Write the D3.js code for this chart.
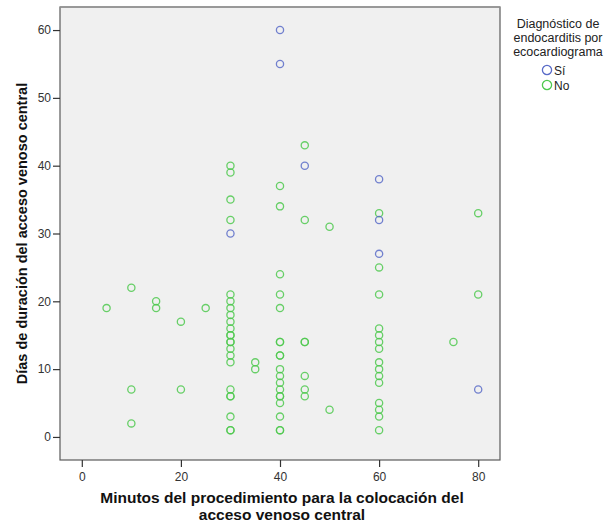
<!DOCTYPE html>
<meta charset="utf-8">
<script src="https://d3js.org/d3.v7.min.js"></script>
<style>
  body { margin: 0; background: #fff; }
  text { font-family: "Liberation Sans", Arial, sans-serif; }
</style>
<div id="chart"></div>
<script>

    // Diagnóstico = Sí
    const siMinutos = [40, 40, 45, 30, 60, 60, 60, 80];
    const siDias    = [60, 55, 40, 30, 38, 32, 27, 7];

    // Diagnóstico = No
    const noMinutos = [5, 10, 10, 10, 15, 15, 20, 20, 25,
      30, 30, 30, 30, 30, 30, 30, 30, 30, 30, 30, 30, 30, 30, 30, 30, 30, 30, 30, 30, 30, 30, 30,
      35, 35,
      40, 40, 40, 40, 40, 40, 40, 40, 40, 40, 40, 40, 40, 40, 40, 40, 40, 40, 40,
      45, 45, 45, 45, 45, 45, 45,
      50, 50,
      60, 60, 60, 60, 60, 60, 60, 60, 60, 60, 60, 60, 60, 60, 60,
      75, 80, 80];
    const noDias = [19, 22, 7, 2, 20, 19, 17, 7, 19,
      40, 39, 35, 32, 21, 20, 19, 18, 17, 16, 15, 15, 14, 14, 13, 12, 11, 7, 6, 6, 3, 1, 1,
      11, 10,
      37, 34, 24, 21, 19, 14, 14, 12, 12, 10, 9, 8, 7, 6, 6, 5, 3, 1, 1,
      43, 32, 14, 14, 9, 7, 6,
      31, 4,
      33, 25, 21, 16, 15, 14, 13, 11, 10, 9, 8, 5, 4, 3, 1,
      14, 33, 21];

    const xTicks = [0, 20, 40, 60, 80];
    const yTicks = [0, 10, 20, 30, 40, 50, 60];
    const legendTitle = ["Diagnóstico de", "endocarditis por", "ecocardiograma"];
    const legendLabels = ["Sí", "No"];
    const colors = ["#5a6cc8", "#4fc94f"];

    const W = 610, H = 527;
    const plot = {left: 60, right: 500, top: 7, bottom: 460};

    const svg = d3.select("#chart")
      .append("svg")
        .attr("width", W)
        .attr("height", H);

    const x = d3.scaleLinear()
      .domain([-4.4, 84.4])
      .range([plot.left, plot.right]);

    const y = d3.scaleLinear()
      .domain([-3.4, 63.4])
      .range([plot.bottom, plot.top]);

    // plot background + frame
    svg.append("rect")
      .attr("x", plot.left)
      .attr("y", plot.top)
      .attr("width", plot.right - plot.left)
      .attr("height", plot.bottom - plot.top)
      .attr("fill", "#f0f0f0")
      .attr("stroke", "#5a5a5a")
      .attr("stroke-width", 1.2);
    // top edge is drawn lighter in the original
    svg.append("line")
      .attr("x1", plot.left).attr("x2", plot.right)
      .attr("y1", plot.top).attr("y2", plot.top)
      .attr("stroke", "#999")
      .attr("stroke-width", 1.4);

    // axes
    const yAxis = svg.append("g")
      .attr("transform", `translate(${plot.left},0)`)
      .call(d3.axisLeft(y).tickValues(yTicks).tickSize(7).tickPadding(2));

    const xAxis = svg.append("g")
      .attr("transform", `translate(0,${plot.bottom})`)
      .call(d3.axisBottom(x).tickValues(xTicks).tickSize(7).tickPadding(5));

    [xAxis, yAxis].forEach(function(a) {
      a.select(".domain").remove();
      a.selectAll(".tick line").attr("stroke", "#333").attr("stroke-width", 1.2);
      a.selectAll(".tick text")
        .attr("fill", "#333")
        .style("font-size", "12px")
        .style("font-family", "'Liberation Sans', Arial, sans-serif");
    });

    // points
    function drawPoints(xs, ys, color) {
      svg.append("g")
        .selectAll("circle")
        .data(xs.map(function(d, i) { return [d, ys[i]]; }))
        .join("circle")
          .attr("cx", function(d) { return x(d[0]); })
          .attr("cy", function(d) { return y(d[1]); })
          .attr("r", 3.6)
          .attr("fill", "none")
          .attr("stroke", color)
          .attr("stroke-opacity", 0.85)
          .attr("stroke-width", 1.3);
    }
    drawPoints(noMinutos, noDias, colors[1]);
    drawPoints(siMinutos, siDias, colors[0]);

    // axis titles
    svg.append("text")
      .attr("transform", `translate(27,${(plot.top + plot.bottom) / 2}) rotate(-90)`)
      .attr("text-anchor", "middle")
      .style("font-size", "14.5px")
      .style("font-weight", "bold")
      .attr("fill", "#111")
      .text("Días de duración del acceso venoso central");

    svg.append("text")
      .attr("x", 282)
      .attr("y", 503)
      .attr("text-anchor", "middle")
      .style("font-size", "15.5px")
      .style("font-weight", "bold")
      .attr("fill", "#111")
      .text("Minutos del procedimiento para la colocación del");

    svg.append("text")
      .attr("x", 282)
      .attr("y", 520)
      .attr("text-anchor", "middle")
      .style("font-size", "15.5px")
      .style("font-weight", "bold")
      .attr("fill", "#111")
      .text("acceso venoso central");

    // legend
    const legend = svg.append("g");
    legend.selectAll("text.title")
      .data(legendTitle)
      .join("text")
        .attr("class", "title")
        .attr("x", 558)
        .attr("y", function(d, i) { return 28 + i * 14; })
        .attr("text-anchor", "middle")
        .style("font-size", "12.5px")
        .attr("fill", "#222")
        .text(function(d) { return d; });

    const items = legend.selectAll("g.item")
      .data(legendLabels)
      .join("g")
        .attr("class", "item")
        .attr("transform", function(d, i) { return `translate(547,${70 + i * 15})`; });

    items.append("circle")
      .attr("r", 4.6)
      .attr("fill", "none")
      .attr("stroke", function(d, i) { return colors[i]; })
      .attr("stroke-width", 1.3);

    items.append("text")
      .attr("x", 7)
      .attr("y", 4.5)
      .style("font-size", "12px")
      .attr("fill", "#222")
      .text(function(d) { return d; });

</script>
</html>
